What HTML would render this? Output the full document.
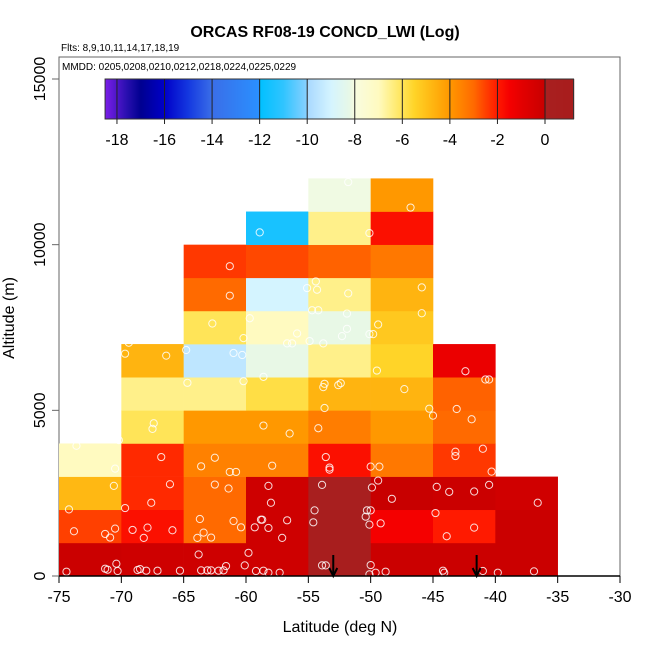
<!DOCTYPE html>
<html><head><meta charset="utf-8"><style>
body{margin:0;background:#fff;font-family:"Liberation Sans",sans-serif}
svg{display:block}
</style></head><body>
<svg id="chart" width="650" height="650" xmlns="http://www.w3.org/2000/svg" font-family="Liberation Sans, sans-serif"></svg>
<script>
// ---- data ----
const latEdges=[-75,-70,-65,-60,-55,-50,-45,-40,-35];
const altEdges=[0,1000,2000,3000,4000,5000,6000,7000,8000,9000,10000,11000,12000];
// rows = altitude bins (bottom->top), cols = latitude bins (west->east); null = no data
const cellValues=[
[-0.1,-0.2,-0.2,-0.2,0.5,-0.1,-0.1,-0.1],
[-2.5,-1.8,-3,-0.2,0.6,-1.5,-2,-0.1],
[-4.8,-2.2,-3,-0.2,0.2,0,-0.1,-0.3],
[-7,-2.2,-3.5,-3.5,-1.8,-3.3,-2.4,null],
[null,-6,-4,-4,-3.4,-4,-3,null],
[null,-6.5,-6.5,-5.8,-4.7,-4.7,-2.9,null],
[null,-4.7,-9.5,-8.2,-6.5,-5.5,-1.2,null],
[null,null,-6,-7,-8.2,-5.2,null,null],
[null,null,-3,-9,-6.5,-4.7,null,null],
[null,null,-2.4,-2.6,-2.9,-3.3,null,null],
[null,null,null,-11.5,-6.5,-1.8,null,null],
[null,null,null,null,-8.1,-4,null,null]];
const pointLat=[-51.8,-46.8,-58.9,-50.1,-61.3,-61.3,-54.4,-55.1,-54.3,-51.8,-45.9,-45.9,-54.7,-54.2,-51.9,-62.7,-59.7,-55.9,-51.9,-52.3,-50.1,-49.8,-49.4,-56.7,-56.3,-54.9,-53.8,-60.2,-69.4,-69.7,-66.4,-64.8,-61.0,-60.3,-49.5,-42.4,-40.8,-40.5,-64.7,-60.2,-58.6,-53.7,-52.4,-52.6,-53.8,-47.3,-53.7,-45.3,-43.1,-45.0,-41.9,-67.4,-67.5,-58.6,-56.5,-54.2,-73.6,-70.2,-66.8,-43.2,-43.2,-41.0,-53.6,-53.3,-53.3,-63.6,-62.5,-61.3,-60.8,-57.9,-50.0,-49.3,-70.5,-40.3,-70.6,-66.1,-62.5,-61.4,-58.2,-53.9,-49.9,-49.4,-48.3,-44.7,-43.7,-41.7,-40.5,-36.6,-74.2,-69.7,-67.6,-58.0,-54.5,-50.3,-50.0,-50.4,-73.8,-71.3,-70.9,-70.5,-69.1,-68.2,-67.9,-65.9,-63.7,-63.4,-62.8,-63.9,-61.0,-60.4,-59.3,-58.8,-58.7,-58.2,-56.7,-57.1,-54.6,-50.1,-49.2,-44.8,-43.9,-41.7,-74.4,-71.3,-71.1,-70.4,-70.3,-68.7,-68.5,-68.0,-67.1,-65.3,-63.8,-63.6,-63.1,-62.8,-62.2,-61.8,-61.6,-60.1,-59.8,-59.2,-58.6,-58.2,-57.3,-53.9,-53.6,-50.0,-50.1,-49.6,-48.8,-44.2,-44.1,-41.0,-39.8,-36.9];
const pointAlt=[11890,11120,10370,10350,9350,8460,8890,8690,8640,8530,8710,7930,8020,8020,7920,7620,7780,7320,7460,7240,7300,7300,7590,7020,7020,7090,7020,7180,7040,6710,6650,6820,6730,6670,6200,6180,5930,5930,5830,5880,6010,5800,5820,5760,5700,5640,5070,5050,5040,4840,4730,4610,4440,4540,4300,4460,3930,4100,3590,3750,3620,3840,3590,3270,3210,3310,3570,3140,3140,3330,3300,3300,3240,3150,2720,2770,2760,2640,2720,2750,2670,2880,2330,2690,2540,2550,2750,2210,2010,2050,2210,2210,1980,1980,1980,1790,1350,1270,1160,1430,1390,1150,1460,1380,1720,1310,1160,1150,1660,1470,1470,1700,1700,1450,1680,1150,1620,1550,1590,1900,1200,1460,130,220,190,370,150,180,210,160,160,160,650,170,170,170,160,170,300,320,700,150,160,100,100,320,320,330,50,100,130,160,100,150,100,140];
const arrowLat=[-53,-41.5];
const xTicks=[-75,-70,-65,-60,-55,-50,-45,-40,-35,-30];
const yTicks=[0,5000,10000,15000];
const cbTicks=[-18,-16,-14,-12,-10,-8,-6,-4,-2,0];
const cbMin=-18.5, cbMax=1.2;
// ---- scales ----
const X=v=>59+(v+75)*(561/45);
const Y=v=>576-v*(497/15000);
const CB=v=>545+v*23.78;
const stops=[[-18.5,'#7a1ee8'],[-17.6,'#2a0fb0'],[-17,'#000090'],[-16,'#0000c8'],[-15,'#1438e0'],[-14,'#3a6ee8'],[-12.01,'#2a90ff'],[-12,'#00c0ff'],[-11,'#30c4ff'],[-10.01,'#88d0ff'],[-10,'#a8d8ff'],[-9,'#d4f4ff'],[-8.2,'#e8f8e6'],[-8,'#f8fce0'],[-7,'#fffac0'],[-6.5,'#fff08a'],[-6,'#ffe458'],[-5.5,'#ffd428'],[-4.7,'#ffb410'],[-4,'#ff9800'],[-3.3,'#ff7800'],[-3,'#ff6a00'],[-2.5,'#ff4000'],[-2,'#ff1a00'],[-1.5,'#f50000'],[-1,'#e40000'],[0,'#c80000'],[0.01,'#a82020'],[1.2,'#a81c1c']];
function hx(c){return [1,3,5].map(i=>parseInt(c.substr(i,2),16));}
function col(v){
  if(v<=stops[0][0])return stops[0][1];
  for(let i=1;i<stops.length;i++){if(v<=stops[i][0]){const a=stops[i-1],b=stops[i];const t=(v-a[0])/(b[0]-a[0]);const ca=hx(a[1]),cb=hx(b[1]);return 'rgb('+ca.map((x,k)=>Math.round(x+(cb[k]-x)*t)).join(',')+')';}}
  return stops[stops.length-1][1];
}
const svg=document.getElementById('chart');const NS='http://www.w3.org/2000/svg';
function mk(t,a,p){const e=document.createElementNS(NS,t);for(const k in a)e.setAttribute(k,a[k]);(p||svg).appendChild(e);return e;}
// title
let e=mk('text',{x:325,y:37,'text-anchor':'middle','font-size':16,'font-weight':'bold'});e.textContent='ORCAS RF08-19 CONCD_LWI (Log)';


e=mk('text',{x:61,y:51,'font-size':10});e.textContent='Flts: 8,9,10,11,14,17,18,19';


// frame
e=mk('rect',{x:59,y:57,width:561,height:519,fill:'none',stroke:'#666','stroke-width':1});


e=mk('text',{x:62,y:70,'font-size':10});e.textContent='MMDD: 0205,0208,0210,0212,0218,0224,0225,0229';


// cells
const gc=mk('g',{});


cellValues.forEach((row,r)=>row.forEach((v,c)=>{if(v===null)return;
  const x0=X(latEdges[c]),x1=X(latEdges[c+1]),y0=Y(altEdges[r+1]),y1=Y(altEdges[r]);
  const el=mk('rect',{x:x0,y:y0,width:x1-x0+0.3,height:y1-y0+0.3,fill:col(v)},gc);
  
  
}));
// points
const gp=mk('g',{});


pointLat.forEach((la,i)=>{const el=mk('circle',{cx:X(la),cy:Y(pointAlt[i]),r:3.6,fill:'none',stroke:'rgba(255,255,255,0.85)','stroke-width':1},gp);
  
  });
// arrows
arrowLat.forEach(la=>{const x=X(la);const g=mk('g',{});
  
  
  mk('line',{x1:x,y1:555,x2:x,y2:575,stroke:'#000','stroke-width':2},g);
  mk('path',{d:`M${x-4},568 L${x},576 L${x+4},568`,fill:'none',stroke:'#000','stroke-width':2},g);});
// colorbar
const cbg=mk('g',{});


const cbL=CB(cbMin), cbR=CB(cbMax);
for(let px=Math.floor(cbL);px<cbR;px++){const v=(px+0.5-545)/23.78;mk('rect',{x:px,y:79,width:1.2,height:40,fill:col(v)},cbg);}
mk('rect',{x:cbL,y:79,width:cbR-cbL,height:40,fill:'none',stroke:'#333','stroke-width':1},cbg);
cbTicks.forEach(t=>{const x=CB(t);mk('line',{x1:x,y1:79,x2:x,y2:124,stroke:'#222','stroke-width':1},cbg);
  const tx=mk('text',{x:x,y:145,'text-anchor':'middle','font-size':16},cbg);tx.textContent=t;
  
  });
// axes
mk('line',{x1:59,y1:576,x2:620,y2:576,stroke:'#000','stroke-width':1.5});
xTicks.forEach(t=>{const x=X(t);mk('line',{x1:x,y1:576,x2:x,y2:583,stroke:'#000'});
  const tx=mk('text',{x:x,y:602,'text-anchor':'middle','font-size':16});tx.textContent=t;
  
  });
yTicks.forEach(t=>{const y=Y(t);mk('line',{x1:52,y1:y,x2:59,y2:y,stroke:'#666'});
  const tx=mk('text',{x:45,y:y,'text-anchor':'middle','font-size':16,transform:`rotate(-90 45 ${y})`});tx.textContent=t;
  
  });
e=mk('text',{x:340,y:632,'text-anchor':'middle','font-size':16});e.textContent='Latitude (deg N)';


e=mk('text',{x:14,y:318,'text-anchor':'middle','font-size':16,transform:'rotate(-90 14 318)'});e.textContent='Altitude (m)';


</script>
</body></html>
